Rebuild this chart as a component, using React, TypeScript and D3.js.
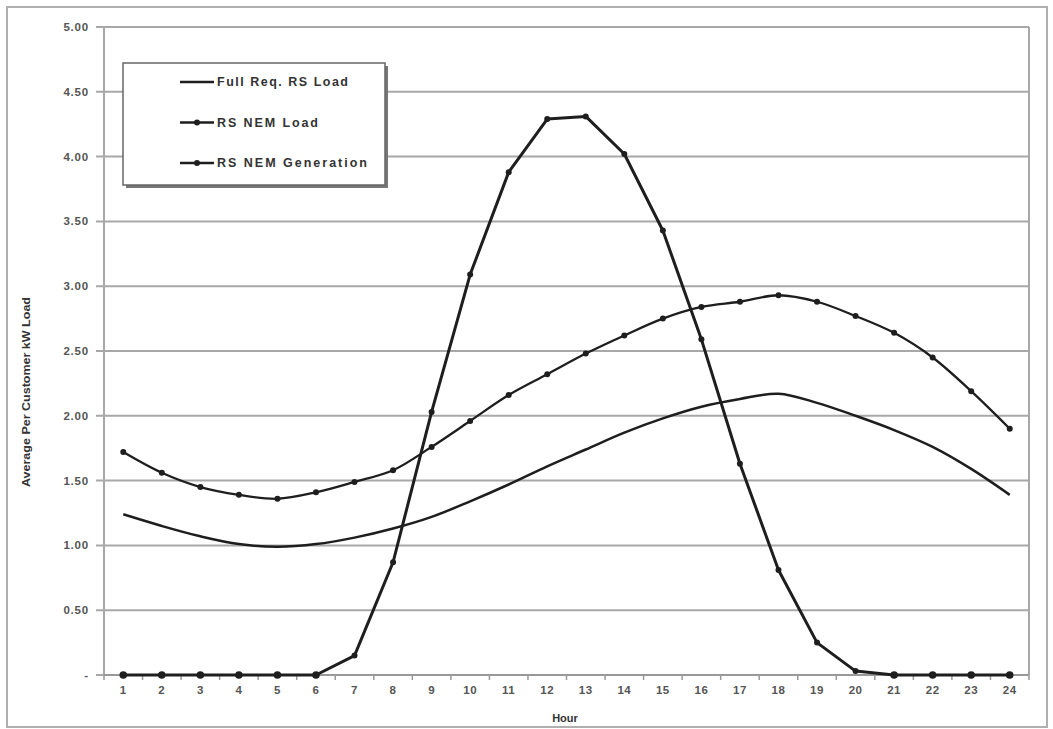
import React from "react";
import * as d3 from "d3";

const hours = d3.range(1, 25);
const fullReqLoad = [1.24, 1.15, 1.07, 1.01, 0.99, 1.01, 1.06, 1.13, 1.22, 1.34, 1.47, 1.61, 1.74, 1.87, 1.98, 2.07, 2.13, 2.17, 2.10, 2.00, 1.89, 1.76, 1.59, 1.39];
const nemLoad = [1.72, 1.56, 1.45, 1.39, 1.36, 1.41, 1.49, 1.58, 1.76, 1.96, 2.16, 2.32, 2.48, 2.62, 2.75, 2.84, 2.88, 2.93, 2.88, 2.77, 2.64, 2.45, 2.19, 1.90];
const nemGeneration = [0, 0, 0, 0, 0, 0, 0.15, 0.87, 2.03, 3.09, 3.88, 4.29, 4.31, 4.02, 3.43, 2.59, 1.63, 0.81, 0.25, 0.03, 0, 0, 0, 0];
const yTicks = [0, 0.5, 1, 1.5, 2, 2.5, 3, 3.5, 4, 4.5, 5];
const legendLabels = ["Full Req. RS Load", "RS NEM Load", "RS NEM Generation"];
const legendWidths = [131, 101, 150];

const W = 1053;
const H = 729;
const left = 104;
const right = 1029;
const top = 27;
const bottom = 675;

export default function App() {
  const x = d3.scaleBand<number>().domain(hours).range([left, right]).padding(0);
  const cx = (h: number) => (x(h) as number) + x.bandwidth() / 2;
  const y = d3.scaleLinear().domain([0, 5]).range([bottom, top]);

  const smooth = d3
    .line<number>()
    .x((_, i) => cx(hours[i]))
    .y((d) => y(d))
    .curve(d3.curveCatmullRom.alpha(0.5));
  const straight = d3
    .line<number>()
    .x((_, i) => cx(hours[i]))
    .y((d) => y(d));

  const font = "'Liberation Sans', Arial, sans-serif";
  const textColor = "#555";
  const grid = "#a8a8a8";
  const lineColor = "#1e1e1e";

  const fmt = (v: number) => (v === 0 ? "-" : v.toFixed(2));

  const boundaries = d3.range(0, 25).map((i) => left + i * x.bandwidth());

  return (
    <svg
      width={W}
      height={H}
      style={{ position: "absolute", left: 0, top: 0, background: "#fff" }}
      fontFamily={font}
    >
      <rect x={0} y={0} width={W} height={H} fill="#fff" />
      <rect x={7} y={7} width={1040} height={720} fill="#fff" stroke="#b0b0b0" strokeWidth={2} />

      {/* gridlines */}
      {yTicks.map((t) => (
        <line key={t} x1={left - 8} x2={right} y1={y(t)} y2={y(t)} stroke={grid} strokeWidth={2} />
      ))}
      {/* plot border */}
      <line x1={right} x2={right} y1={top} y2={bottom} stroke={grid} strokeWidth={2} />
      <line x1={left} x2={left} y1={top} y2={bottom} stroke={grid} strokeWidth={2} />
      <line x1={left} x2={right} y1={bottom} y2={bottom} stroke="#999" strokeWidth={2} />

      {/* x ticks */}
      {boundaries.map((b, i) => (
        <line key={i} x1={b} x2={b} y1={bottom} y2={bottom + 5} stroke="#999" strokeWidth={1.5} />
      ))}

      {/* y tick labels */}
      {yTicks.map((t) => (
        <text
          key={t}
          x={89}
          y={y(t)}
          dy="0.35em"
          textAnchor="end"
          fontSize={11.5}
          fontWeight="bold"
          letterSpacing={0.8}
          fill={textColor}
        >
          {fmt(t)}
        </text>
      ))}

      {/* x tick labels */}
      {hours.map((h) => (
        <text
          key={h}
          x={cx(h)}
          y={690}
          dy="0.35em"
          textAnchor="middle"
          fontSize={11.5}
          fontWeight="bold"
          letterSpacing={0.5}
          fill={textColor}
        >
          {h}
        </text>
      ))}

      {/* axis titles */}
      <text x={565} y={718} dy="0.35em" textAnchor="middle" fontSize={11} fontWeight="bold" fill="#333">
        Hour
      </text>
      <text
        transform={`translate(26,392) rotate(-90)`}
        dy="0.35em"
        textAnchor="middle"
        fontSize={10}
        fontWeight="bold"
        fill="#333"
        textLength={190}
        lengthAdjust="spacingAndGlyphs"
      >
        Average Per Customer kW Load
      </text>

      {/* series */}
      <path d={smooth(fullReqLoad) || ""} fill="none" stroke={lineColor} strokeWidth={2.5} />
      <path d={smooth(nemLoad) || ""} fill="none" stroke={lineColor} strokeWidth={2.3} />
      {nemLoad.map((v, i) => (
        <circle key={`l${i}`} cx={cx(hours[i])} cy={y(v)} r={3} fill={lineColor} />
      ))}
      <path d={straight(nemGeneration) || ""} fill="none" stroke={lineColor} strokeWidth={3} strokeLinejoin="round" />
      {nemGeneration.map((v, i) => (
        <circle key={`g${i}`} cx={cx(hours[i])} cy={y(v)} r={v === 0 ? 3.8 : 3} fill={lineColor} />
      ))}

      {/* legend */}
      <rect x={126} y={66} width={262} height={122} fill="#777" />
      <rect x={123} y={63} width={262} height={122} fill="#fff" stroke="#666" strokeWidth={1.5} />
      {legendLabels.map((lab, i) => {
        const ly = 82 + i * 40.5;
        return (
          <g key={lab}>
            <line x1={180} x2={214} y1={ly} y2={ly} stroke={lineColor} strokeWidth={2.3} />
            {i > 0 && <circle cx={197} cy={ly} r={3} fill={lineColor} />}
            <text
              x={217}
              y={ly}
              dy="0.35em"
              fontSize={12.5}
              fontWeight="bold"
              fill="#333"
              textLength={legendWidths[i]}
              lengthAdjust="spacing"
            >
              {lab}
            </text>
          </g>
        );
      })}
    </svg>
  );
}
